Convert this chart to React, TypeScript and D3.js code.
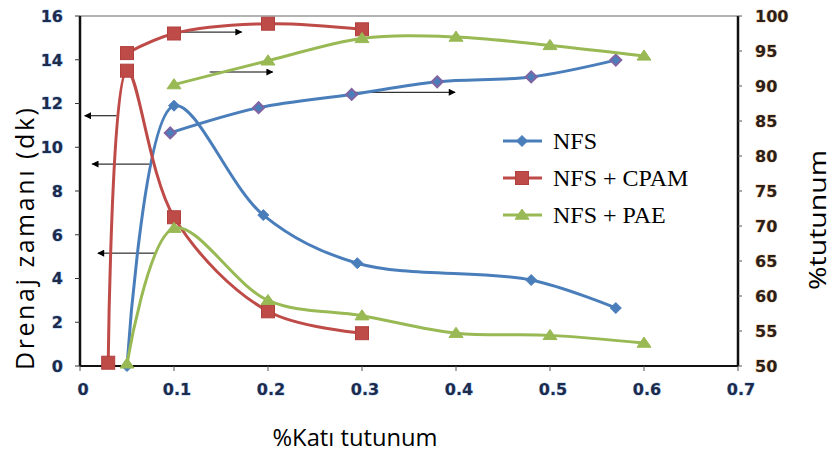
import React from "react";
import * as d3 from "d3";

// ---------- data ----------
const xTicks = [0, 0.1, 0.2, 0.3, 0.4, 0.5, 0.6, 0.7];
const xTickLabels = ["0", "0.1", "0.2", "0.3", "0.4", "0.5", "0.6", "0.7"];
const leftTicks = [0, 2, 4, 6, 8, 10, 12, 14, 16];
const rightTicks = [50, 55, 60, 65, 70, 75, 80, 85, 90, 95, 100];

const seriesNames = ["NFS", "NFS + CPAM", "NFS + PAE"];

// drainage time (left axis)
const nfsDrainX = [0.05, 0.1, 0.195, 0.295, 0.48, 0.57];
const nfsDrainY = [0, 11.9, 6.9, 4.7, 3.93, 2.65];
const cpamDrainX = [0.03, 0.05, 0.1, 0.2, 0.3];
const cpamDrainY = [0.15, 13.5, 6.8, 2.5, 1.5];
const paeDrainX = [0.05, 0.1, 0.2, 0.3, 0.4, 0.5, 0.6];
const paeDrainY = [0.1, 6.3, 3.0, 2.3, 1.5, 1.4, 1.05];

// retention % (right axis)
const nfsRetX = [0.096, 0.19, 0.289, 0.38, 0.48, 0.57];
const nfsRetY = [83.3, 86.9, 88.8, 90.6, 91.3, 93.7];
const cpamRetX = [0.05, 0.1, 0.2, 0.3];
const cpamRetY = [94.7, 97.5, 98.9, 98.1];
const paeRetX = [0.1, 0.2, 0.3, 0.4, 0.5, 0.6];
const paeRetY = [90.2, 93.6, 96.8, 97.0, 95.8, 94.3];

// annotation arrows: from x, to x, value, axis
const arrowFromX = [0.039, 0.074, 0.082, 0.103, 0.138, 0.29];
const arrowToX = [0.005, 0.013, 0.019, 0.172, 0.205, 0.399];
const arrowValue = [11.44, 9.23, 5.16, 97.7, 92.0, 89.1];
const arrowAxis = ["L", "L", "L", "R", "R", "R"];

// ---------- layout ----------
const W = 832;
const H = 456;
const left = 80;
const right = 738;
const top = 16;
const bottom = 366;

const BLUE = "#4a7ebb";
const RED = "#be4b48";
const GREEN = "#98b954";
const PURPLE = "#8064a2";

const x = d3.scaleLinear().domain([0, 0.7]).range([left, right]);
const yL = d3.scaleLinear().domain([0, 16]).range([bottom, top]);
const yR = d3.scaleLinear().domain([50, 100]).range([bottom, top]);

const curve = d3.curveCatmullRom.alpha(0.5);

function pathOf(xs: number[], ys: number[], sc: d3.ScaleLinear<number, number>) {
  const pts: [number, number][] = xs.map((v, i) => [x(v), sc(ys[i])]);
  return d3.line().curve(curve)(pts) || "";
}

function Marker({ kind, cx, cy, stroke }: { kind: string; cx: number; cy: number; stroke?: string }) {
  if (kind === "diamond") {
    const s = 5.5;
    return (
      <path
        d={`M${cx},${cy - s}L${cx + s},${cy}L${cx},${cy + s}L${cx - s},${cy}Z`}
        fill={BLUE}
        stroke={stroke || BLUE}
        strokeWidth={stroke ? 2 : 1}
      />
    );
  }
  if (kind === "square") {
    const s = 6.5;
    return <rect x={cx - s} y={cy - s} width={2 * s} height={2 * s} fill={RED} stroke="#b0403d" strokeWidth={1} />;
  }
  const s = 7;
  return (
    <path
      d={`M${cx},${cy - s * 0.85}L${cx + s},${cy + s * 0.6}L${cx - s},${cy + s * 0.6}Z`}
      fill={GREEN}
      stroke={GREEN}
      strokeWidth={1}
    />
  );
}

function Series({
  xs,
  ys,
  scale,
  color,
  kind,
  markerStroke,
}: {
  xs: number[];
  ys: number[];
  scale: d3.ScaleLinear<number, number>;
  color: string;
  kind: string;
  markerStroke?: string;
}) {
  return (
    <g>
      <path d={pathOf(xs, ys, scale)} fill="none" stroke={color} strokeWidth={3} strokeLinejoin="round" />
      {xs.map((v, i) => (
        <Marker key={i} kind={kind} cx={x(v)} cy={scale(ys[i])} stroke={markerStroke} />
      ))}
    </g>
  );
}

export default function App() {
  const tickFont = "DejaVu Sans, Verdana, sans-serif";
  return (
    <svg
      width={W}
      height={H}
      viewBox={`0 0 ${W} ${H}`}
      style={{ position: "absolute", left: 0, top: 0, background: "#fff" }}
    >
      <defs>
        <marker id="ah" viewBox="0 0 10 10" refX="9" refY="5" markerWidth="8" markerHeight="7" orient="auto" markerUnits="userSpaceOnUse">
          <path d="M0,0L10,5L0,10Z" fill="#000" />
        </marker>
      </defs>
      <rect x={0} y={0} width={W} height={H} fill="#fff" />

      {/* frame */}
      <line x1={left} x2={right} y1={top} y2={top} stroke="#9a9a9a" strokeWidth={1.5} />
      <line x1={left} x2={left} y1={top} y2={bottom} stroke="#111" strokeWidth={2.5} />
      <line x1={right} x2={right} y1={top} y2={bottom} stroke="#111" strokeWidth={2.5} />
      <line x1={left} x2={right} y1={bottom} y2={bottom} stroke="#111" strokeWidth={2} />

      {/* left ticks */}
      {leftTicks.map((t) => (
        <g key={"l" + t}>
          <line x1={left - 5} x2={left} y1={yL(t)} y2={yL(t)} stroke="#333" strokeWidth={1} />
          <text
            x={63}
            y={yL(t)}
            dy="0.36em"
            textAnchor="end"
            fontFamily={tickFont}
            fontWeight="bold"
            fontSize={16}
            fill="#1e2a4a"
            stroke="rgba(90,160,235,0.5)"
            strokeWidth={1.2}
            paintOrder="stroke"
          >
            {t}
          </text>
        </g>
      ))}

      {/* right ticks */}
      {rightTicks.map((t) => (
        <g key={"r" + t}>
          <line x1={right} x2={right + 4} y1={yR(t)} y2={yR(t)} stroke="#555" strokeWidth={1} />
          <text
            x={755}
            y={yR(t)}
            dy="0.36em"
            textAnchor="start"
            fontFamily={tickFont}
            fontWeight="bold"
            fontSize={16}
            fill="#2a1f1a"
            stroke="rgba(235,150,70,0.45)"
            strokeWidth={1.2}
            paintOrder="stroke"
          >
            {t}
          </text>
        </g>
      ))}

      {/* bottom ticks */}
      {xTicks.map((t, i) => (
        <g key={"x" + t}>
          <line x1={x(t)} x2={x(t)} y1={bottom} y2={bottom + 5} stroke="#555" strokeWidth={1} />
          <text
            x={x(t) + 3}
            y={389}
            dy="0.36em"
            textAnchor="middle"
            fontFamily={tickFont}
            fontWeight="bold"
            fontSize={16}
            fill="#1e2a4a"
            stroke="rgba(90,160,235,0.45)"
            strokeWidth={1.2}
            paintOrder="stroke"
          >
            {xTickLabels[i]}
          </text>
        </g>
      ))}

      {/* axis titles */}
      <text
        transform="translate(34,239) rotate(-90)"
        textAnchor="middle"
        fontFamily="Open Sans, Liberation Sans, sans-serif"
        fontSize={25}
        fill="#000"
        textLength={262}
        lengthAdjust="spacing"
      >
        Drenaj zamanı (dk)
      </text>
      <text
        transform="translate(826,220) rotate(-90)"
        textAnchor="middle"
        fontFamily="Open Sans, Liberation Sans, sans-serif"
        fontSize={23}
        fill="#000"
        textLength={140}
        lengthAdjust="spacingAndGlyphs"
      >
        %tutunum
      </text>
      <text
        x={355}
        y={446}
        textAnchor="middle"
        fontFamily="Open Sans, Liberation Sans, sans-serif"
        fontSize={24}
        fill="#000"
        textLength={165}
        lengthAdjust="spacingAndGlyphs"
      >
        %Katı tutunum
      </text>

      {/* arrows */}
      {arrowFromX.map((v, i) => {
        const sc = arrowAxis[i] === "L" ? yL : yR;
        return (
          <line
            key={"a" + i}
            x1={x(v)}
            x2={x(arrowToX[i])}
            y1={sc(arrowValue[i])}
            y2={sc(arrowValue[i])}
            stroke="#000"
            strokeWidth={1}
            markerEnd="url(#ah)"
          />
        );
      })}

      {/* series: drainage */}
      <Series xs={nfsDrainX} ys={nfsDrainY} scale={yL} color={BLUE} kind="diamond" />
      <Series xs={cpamDrainX} ys={cpamDrainY} scale={yL} color={RED} kind="square" />
      <Series xs={paeDrainX} ys={paeDrainY} scale={yL} color={GREEN} kind="triangle" />
      {/* series: retention */}
      <Series xs={nfsRetX} ys={nfsRetY} scale={yR} color={BLUE} kind="diamond" markerStroke={PURPLE} />
      <Series xs={cpamRetX} ys={cpamRetY} scale={yR} color={RED} kind="square" />
      <Series xs={paeRetX} ys={paeRetY} scale={yR} color={GREEN} kind="triangle" />

      {/* legend */}
      {seriesNames.map((n, i) => {
        const ly = 141 + i * 37;
        const kinds = ["diamond", "square", "triangle"];
        const cols = [BLUE, RED, GREEN];
        return (
          <g key={n}>
            <line x1={503} x2={542} y1={ly} y2={ly} stroke={cols[i]} strokeWidth={3} />
            <Marker kind={kinds[i]} cx={522} cy={ly} />
            <text
              x={553}
              y={ly + 8}
              fontFamily="Liberation Serif, Times New Roman, serif"
              fontSize={24}
              fill="#000"
            >
              {n}
            </text>
          </g>
        );
      })}
    </svg>
  );
}
